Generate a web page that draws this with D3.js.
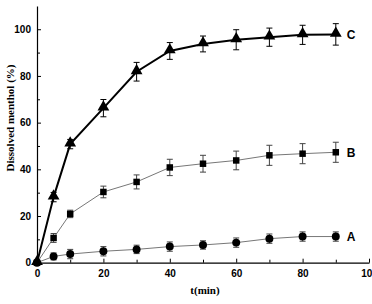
<!DOCTYPE html>
<html><head><meta charset="utf-8">
<script src="https://cdn.jsdelivr.net/npm/d3@7"></script>
<style>body{margin:0;background:#fff}svg{display:block}</style>
</head><body><svg id="c" width="372" height="304"></svg>
<script>
const times = [0,5,10,20,30,40,50,60,70,80,90];
const seriesNames = ["A","B","C"];
const valuesA = [0,2.7,3.7,4.9,5.7,6.9,7.6,8.6,10.3,11.2,11.2];
const errA    = [0,1.5,2,2,1.8,2,1.8,2,2,2,2];
const valuesB = [0,10.6,20.9,30.3,34.6,40.8,42.4,43.8,46,46.7,47.3];
const errB    = [0,1.9,1.6,2.5,3,3.5,3.6,4,4.3,4.3,4.3];
const valuesC = [0,28.1,50.8,66.2,81.8,90.7,93.7,95.5,96.6,97.6,97.8];
const errC    = [0,2,2,3.7,4,3.6,3.4,4.3,3.9,4.1,4.6];
const xTicks = [0,20,40,60,80,100];
const yTicks = [0,20,40,60,80,100];

const svg = d3.select("#c");
const x = d3.scaleLinear().domain([0,100]).range([37,369]);
const y = d3.scaleLinear().domain([0,110]).range([262.7,5.9]);

// axes
const xAxis = d3.axisBottom(x).tickValues(d3.range(0,101,10)).tickSize(-4).tickSizeOuter(0)
  .tickFormat(d=> xTicks.includes(d)? d : "");
const gx = svg.append("g").attr("transform","translate(0,262.7)").call(xAxis);
gx.selectAll(".tick line").attr("y2", d=> d%20===0 ? -4 : -3);
gx.selectAll("text").attr("dy","0").attr("y",14).style("font","bold 10px Arial, 'Liberation Sans', sans-serif");
gx.select(".domain").attr("stroke-width",1.2);

const yAxis = d3.axisLeft(y).tickValues(d3.range(0,101,10)).tickSize(-4).tickSizeOuter(0)
  .tickFormat(d=> yTicks.includes(d)? d : "");
const gy = svg.append("g").attr("transform","translate(37,0)").call(yAxis);
gy.selectAll(".tick line").attr("x2", d=> d%20===0 ? 4 : 3);
gy.selectAll("text").attr("x",-6).style("font","bold 10px Arial, 'Liberation Sans', sans-serif");
gy.select(".domain").attr("stroke-width",1.2);

svg.append("text").attr("x",205).attr("y",294).attr("text-anchor","middle")
  .style("font","bold 11px 'Times New Roman', 'Liberation Serif', serif").text("t(min)");
svg.append("text").attr("transform","translate(14,118) rotate(-90)").attr("text-anchor","middle")
  .style("font","bold 11px 'Times New Roman', 'Liberation Serif', serif").text("Dissolved menthol (%)");

const series = [
  {name:"A", v:valuesA, e:errA, lw:1, lc:"#777", marker:"circle"},
  {name:"B", v:valuesB, e:errB, lw:1, lc:"#777", marker:"square"},
  {name:"C", v:valuesC, e:errC, lw:2, lc:"#000", marker:"triangle"}
];
const line = d3.line().x(d=>x(d[0])).y(d=>y(d[1]));
series.forEach(s=>{
  const pts = times.map((t,i)=>[t,s.v[i],s.e[i]]);
  const g = svg.append("g");
  g.append("path").datum(pts).attr("d",line).attr("fill","none").attr("stroke",s.lc).attr("stroke-width",s.lw);
  pts.filter(p=>p[2]>0).forEach(p=>{
    const cx = x(p[0]), lo = y(p[1]-p[2]), hi = y(p[1]+p[2]);
    const col = s.name==="C" ? "#000" : "#444";
    g.append("line").attr("x1",cx).attr("x2",cx).attr("y1",lo).attr("y2",hi).attr("stroke",col).attr("stroke-width",1);
    [lo,hi].forEach(yy=>g.append("line").attr("x1",cx-3).attr("x2",cx+3).attr("y1",yy).attr("y2",yy).attr("stroke",col).attr("stroke-width",1));
  });
  const sym = s.marker==="circle" ? d3.symbolCircle : s.marker==="square" ? d3.symbolSquare : d3.symbolTriangle;
  const size = s.marker==="circle" ? 50 : s.marker==="square" ? 42 : 60;
  pts.forEach(p=>{
    g.append("path").attr("d",d3.symbol().type(sym).size(size)())
      .attr("transform",`translate(${x(p[0])},${y(p[1]) + (s.marker==="triangle"?-1:0)})`).attr("fill","#000");
  });
  const last = pts[pts.length-1];
  svg.append("text").attr("x",x(last[0])+11).attr("y",y(last[1])+4.5)
    .style("font","bold 12px Arial, 'Liberation Sans', sans-serif").text(s.name);
});
</script></body></html>
